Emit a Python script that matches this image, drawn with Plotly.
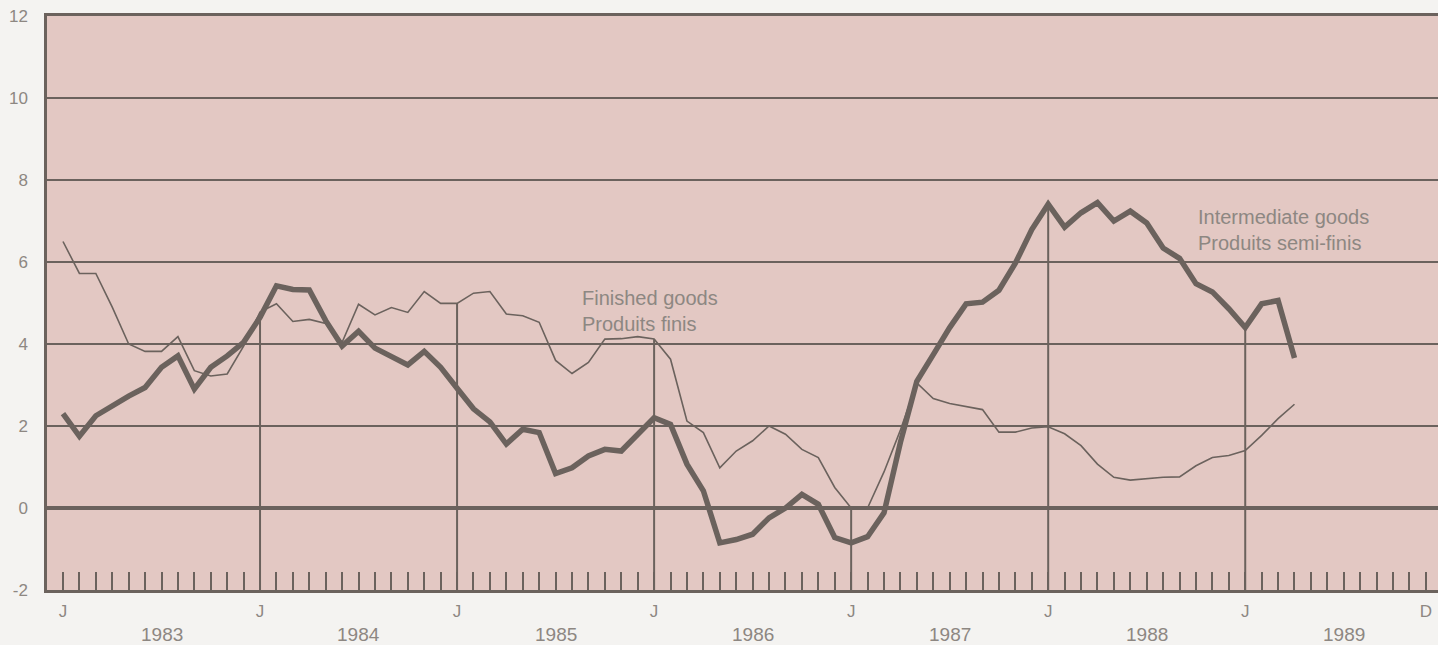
import plotly.graph_objects as go

# Month index: 0 = January 1983 ... 83 = December 1989
months = list(range(76))

# Intermediate goods / Produits semi-finis (thick line), % change
intermediate = [2.3, 1.75, 2.25, 2.5, 2.73, 2.94, 3.43, 3.71, 2.9, 3.43, 3.71, 4.04,
                4.65, 5.42, 5.33, 5.32, 4.57, 3.95, 4.31, 3.9, 3.71, 3.49, 3.82, 3.43,
                2.92, 2.42, 2.1, 1.56, 1.92, 1.84, 0.84, 0.98, 1.27, 1.43, 1.39, 1.8,
                2.2, 2.04, 1.07, 0.42, -0.85, -0.77, -0.64, -0.24, 0.0, 0.33, 0.09, -0.72,
                -0.85, -0.7, -0.12, 1.6, 3.09, 3.74, 4.4, 4.98, 5.02, 5.31, 5.97, 6.79,
                7.41, 6.85, 7.2, 7.45, 7.0, 7.24, 6.95, 6.34, 6.09, 5.47, 5.27, 4.86,
                4.4, 4.98, 5.06, 3.66]

# Finished goods / Produits finis (thin line), % change
finished = [6.5, 5.72, 5.72, 4.9, 4.0, 3.82, 3.82, 4.18, 3.35, 3.22, 3.27, 3.95,
            4.78, 4.98, 4.55, 4.6, 4.5, 4.04, 4.97, 4.71, 4.89, 4.77, 5.28, 4.99,
            4.99, 5.24, 5.28, 4.73, 4.69, 4.53, 3.6, 3.28, 3.55, 4.12, 4.13, 4.18,
            4.12, 3.63, 2.12, 1.84, 0.98, 1.39, 1.64, 2.0, 1.8, 1.43, 1.23, 0.5,
            0.0, 0.0, 0.88, 1.9, 3.05, 2.67, 2.55, 2.47, 2.4, 1.85, 1.85, 1.95,
            1.98, 1.81, 1.52, 1.07, 0.75, 0.68, 0.72, 0.75, 0.76, 1.03, 1.23, 1.28,
            1.4, 1.77, 2.18, 2.53]

years = ["1983", "1984", "1985", "1986", "1987", "1988", "1989"]
y_ticks = [-2, 0, 2, 4, 6, 8, 10, 12]
y_ticktext = ["-2", "0", "2", "4", "6", "8", "10", "12"]
last_month = 83

ink = "#6b625d"
text_col = "#8d8782"
font_family = "Liberation Sans, Arial, sans-serif"

fig = go.Figure()

# January drop lines: from the bottom of the axis up to the higher of the two series
jan_x, jan_y = [], []
for m in range(12, len(months), 12):
    top = max(intermediate[m], finished[m])
    jan_x += [m, m, None]
    jan_y += [y_ticks[0], top, None]
fig.add_trace(go.Scatter(x=jan_x, y=jan_y, mode="lines",
                         line=dict(color=ink, width=2), hoverinfo="skip",
                         showlegend=False))

fig.add_trace(go.Scatter(x=months, y=finished, mode="lines",
                         line=dict(color=ink, width=1.6), name="Finished goods",
                         showlegend=False))
fig.add_trace(go.Scatter(x=months, y=intermediate, mode="lines",
                         line=dict(color=ink, width=5.5), name="Intermediate goods",
                         showlegend=False))

tickvals = list(range(last_month + 1))
ticktext = []
for m in tickvals:
    if m == last_month:
        ticktext.append("D")
    elif m % 12 == 0:
        ticktext.append("J")
    else:
        ticktext.append("")

fig.update_xaxes(range=[-0.974, 83.74], tickmode="array", tickvals=tickvals,
                 ticktext=ticktext, ticks="inside", ticklen=18, tickwidth=2,
                 tickcolor=ink, showgrid=False, zeroline=False, showline=True,
                 linecolor=ink, linewidth=2.5, mirror=True, ticklabelstandoff=4,
                 tickfont=dict(family=font_family, size=17, color=text_col))
fig.update_yaxes(range=[-2, 12], tickmode="array", tickvals=y_ticks,
                 ticktext=y_ticktext, showgrid=True, gridcolor=ink,
                 gridwidth=1.8, zeroline=True, zerolinecolor=ink, zerolinewidth=3.5,
                 showline=True, linecolor=ink, linewidth=2.5, ticks="",
                 ticklabelstandoff=13,
                 tickfont=dict(family=font_family, size=17, color=text_col))

annotations = []
for i, yr in enumerate(years):
    annotations.append(dict(x=12 * i + 6, y=0, xref="x", yref="paper", text=yr,
                            showarrow=False, yanchor="middle", yshift=-44,
                            font=dict(family=font_family, size=19, color=text_col)))
annotations.append(dict(x=31.5, y=4.8, xref="x", yref="y",
                        text="Finished goods<br>Produits finis", showarrow=False,
                        xanchor="left", yanchor="middle", align="left",
                        font=dict(family=font_family, size=20, color=text_col)))
annotations.append(dict(x=69.0, y=6.78, xref="x", yref="y",
                        text="Intermediate goods<br>Produits semi-finis", showarrow=False,
                        xanchor="left", yanchor="middle", align="left",
                        font=dict(family=font_family, size=20, color=text_col)))

fig.update_layout(width=1438, height=645, margin=dict(l=47, r=0, t=16, b=55),
                  paper_bgcolor="#f4f3f1", plot_bgcolor="#e3c8c3",
                  annotations=annotations, showlegend=False)

fig.write_html("out.html", config={"displayModeBar": False},
               post_script="document.body.style.margin='0';"
                           "document.body.style.padding='0';"
                           "document.body.style.overflow='hidden';"
                           "document.documentElement.style.overflow='hidden';")
